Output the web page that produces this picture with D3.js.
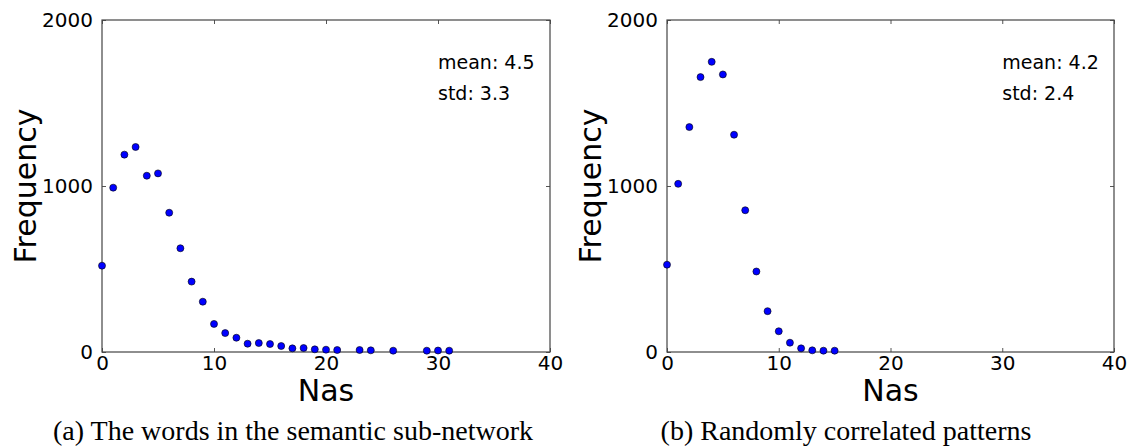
<!DOCTYPE html>
<meta charset="utf-8">
<style>

body { margin: 0; background: #fff; }

text.tick, text.stat {
  font: 20px "DejaVu Sans", sans-serif;
  fill: #000;
}

text.stat { font-size: 19px; }

text.label {
  font: 30px "DejaVu Sans", sans-serif;
  fill: #000;
}

text.caption {
  font: 28px "Liberation Serif", serif;
  fill: #000;
}

</style>
<svg width="1128" height="448"></svg>
<script src="https://d3js.org/d3.v7.min.js"></script>
<script>

// (a) words in the semantic sub-network
var nasA = [0, 1, 2, 3, 4, 5, 6, 7, 8, 9, 10, 11, 12, 13, 14, 15, 16, 17, 18, 19, 20, 21, 23, 24, 26, 29, 30, 31];
var freqA = [520, 990, 1189, 1235, 1062, 1076, 839, 625, 424, 303, 169, 114, 86, 50, 54, 48, 36, 22, 24, 16, 14, 12, 12, 10, 8, 8, 9, 8];

// (b) randomly correlated patterns
var nasB = [0, 1, 2, 3, 4, 5, 6, 7, 8, 9, 10, 11, 12, 13, 14, 15];
var freqB = [526, 1013, 1355, 1656, 1748, 1672, 1309, 854, 485, 246, 125, 56, 22, 10, 8, 8];

var xTicks = [0, 10, 20, 30, 40];
var yTicks = [0, 1000, 2000];

var statsA = ["mean: 4.5", "std: 3.3"];
var statsB = ["mean: 4.2", "std: 2.4"];

var svg = d3.select("svg");

function panel(left, right, nas, freq, stats, caption, captionX) {
  var top = 20, bottom = 352;
  var x = d3.scaleLinear().domain([0, 40]).range([left, right]);
  var y = d3.scaleLinear().domain([0, 2000]).range([bottom, top]);
  var g = svg.append("g");

  // ticks point inward on all four sides
  g.append("g")
      .attr("transform", "translate(0," + bottom + ")")
      .call(d3.axisBottom(x).tickValues(xTicks).tickSizeInner(-4).tickSizeOuter(0).tickPadding(4).tickFormat(d3.format("d")));
  g.append("g")
      .attr("transform", "translate(0," + top + ")")
      .call(d3.axisTop(x).tickValues(xTicks).tickSizeInner(-4).tickSizeOuter(0).tickFormat(""));
  g.append("g")
      .attr("transform", "translate(" + left + ",0)")
      .call(d3.axisLeft(y).tickValues(yTicks).tickSizeInner(-4).tickSizeOuter(0).tickPadding(9).tickFormat(d3.format("d")));
  g.append("g")
      .attr("transform", "translate(" + right + ",0)")
      .call(d3.axisRight(y).tickValues(yTicks).tickSizeInner(-4).tickSizeOuter(0).tickFormat(""));

  g.selectAll(".domain").remove();
  g.selectAll(".tick line").attr("stroke", "#555");
  g.selectAll(".tick text").attr("class", "tick").attr("font-size", null).attr("font-family", null);

  g.append("rect")
      .attr("x", left).attr("y", top)
      .attr("width", right - left).attr("height", bottom - top)
      .attr("fill", "none").attr("stroke", "#444").attr("stroke-width", 1.2);

  g.selectAll("circle")
    .data(d3.zip(nas, freq))
    .enter().append("circle")
      .attr("cx", function(d) { return x(d[0]); })
      .attr("cy", function(d) { return y(d[1]); })
      .attr("r", 3.5)
      .attr("fill", "#0000ff")
      .attr("stroke", "#000")
      .attr("stroke-width", 0.6);

  g.selectAll("text.stat")
    .data(stats)
    .enter().append("text")
      .attr("class", "stat")
      .attr("x", x(30))
      .attr("y", function(d, i) { return 69 + i * 31; })
      .text(function(d) { return d; });

  g.append("text")
      .attr("class", "label")
      .attr("text-anchor", "middle")
      .attr("x", (left + right) / 2)
      .attr("y", 401)
      .text("Nas");

  g.append("text")
      .attr("class", "label")
      .attr("text-anchor", "middle")
      .attr("transform", "translate(" + (left - 66) + "," + ((top + bottom) / 2) + ") rotate(-90)")
      .text("Frequency");

  g.append("text")
      .attr("class", "caption")
      .attr("text-anchor", "middle")
      .attr("x", captionX)
      .attr("y", 440)
      .text(caption);
}

panel(102, 550, nasA, freqA, statsA, "(a) The words in the semantic sub-network", 293);
panel(667, 1114, nasB, freqB, statsB, "(b) Randomly correlated patterns", 846);

</script>
